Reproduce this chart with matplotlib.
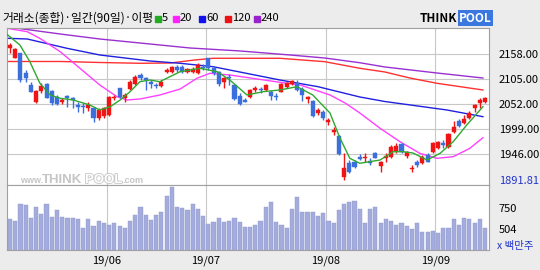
import matplotlib
matplotlib.use("Agg")
import matplotlib.pyplot as plt
import matplotlib.patheffects as pe
from matplotlib.patches import Rectangle

plt.rcParams['font.family'] = ['Noto Sans CJK KR', 'DejaVu Sans']

# KOSPI daily candles, index 0 = first session shown
opens = [2171.7, 2151.2, 2160.5, 2119.4, 2093.3, 2057.9, 2081.2, 2094.8, 2080.6, 2068.5,
         2056.6, 2070.0, 2065.1, 2050.9, 2049.4, 2043.9, 2045.2, 2024.0, 2028.2, 2029.7,
         2066.4, 2086.3, 2066.4, 2084.8, 2094.8, 2114.5, 2107.5, 2099.0, 2093.3, 2091.2,
         2120.2, 2121.5, 2132.1, 2132.1, 2120.2, 2120.9, 2118.1, 2132.1, 2149.9, 2128.7,
         2121.5, 2099.0, 2110.9, 2093.3, 2070.6, 2061.5, 2068.5, 2082.7, 2084.8, 2082.7,
         2079.1, 2070.6, 2079.1, 2089.7, 2094.8, 2096.9, 2084.2, 2063.6, 2059.4, 2033.3,
         2036.7, 2014.2, 1993.0, 1985.8, 1898.9, 1927.3, 1929.4, 1941.3, 1939.2, 1932.2,
         1948.5, 1922.2, 1939.2, 1941.3, 1953.4, 1967.6, 1943.4, 1914.6, 1930.7, 1927.3,
         1944.9, 1950.6, 1960.4, 1969.7, 1962.5, 1993.0, 2017.0, 2012.0, 2022.7, 2043.9,
         2054.5, 2057.9]
highs = [2181.7, 2171.1, 2161.5, 2125.1, 2100.3, 2082.7, 2096.9, 2096.9, 2082.7, 2072.1,
         2066.4, 2072.1, 2068.5, 2056.6, 2054.5, 2057.9, 2047.3, 2044.5, 2047.3, 2070.6,
         2072.1, 2087.6, 2075.7, 2103.9, 2114.5, 2118.1, 2110.9, 2103.9, 2096.9, 2103.9,
         2128.7, 2134.2, 2135.7, 2135.7, 2130.0, 2131.5, 2139.3, 2137.2, 2151.2, 2132.1,
         2123.0, 2110.9, 2116.0, 2094.8, 2075.7, 2066.4, 2084.2, 2091.2, 2089.7, 2094.8,
         2082.7, 2075.7, 2096.9, 2100.3, 2103.9, 2103.9, 2089.7, 2070.6, 2061.5, 2043.9,
         2040.3, 2024.0, 2004.9, 1987.3, 1948.5, 1934.3, 1934.3, 1946.4, 1948.5, 1937.9,
         1951.9, 1932.2, 1948.5, 1966.1, 1969.7, 1969.7, 1953.4, 1923.7, 1934.3, 1944.9,
         1948.5, 1973.1, 1974.6, 1976.7, 1990.9, 2017.0, 2021.2, 2029.7, 2038.2, 2052.4,
         2065.1, 2068.5]
lows = [2160.5, 2149.9, 2100.3, 2100.3, 2078.5, 2054.5, 2075.7, 2065.1, 2050.9, 2050.9,
        2053.7, 2047.3, 2043.9, 2035.4, 2033.3, 2038.2, 2015.5, 2019.1, 2022.7, 2028.2,
        2061.5, 2065.1, 2057.9, 2082.7, 2093.3, 2103.9, 2082.7, 2086.3, 2086.3, 2089.7,
        2118.1, 2118.1, 2121.5, 2118.1, 2118.1, 2118.1, 2116.0, 2125.1, 2125.1, 2114.5,
        2091.8, 2087.6, 2093.3, 2061.5, 2050.9, 2056.6, 2066.4, 2079.1, 2075.7, 2080.6,
        2061.5, 2061.5, 2077.8, 2086.3, 2093.3, 2080.6, 2059.4, 2054.5, 2026.1, 2029.7,
        2019.1, 2008.5, 1987.3, 1944.9, 1891.81, 1906.1, 1916.7, 1934.3, 1930.7, 1923.7,
        1937.9, 1909.5, 1930.7, 1939.2, 1948.5, 1948.5, 1939.2, 1908.2, 1920.1, 1925.2,
        1929.4, 1948.5, 1957.6, 1959.1, 1960.4, 1990.9, 2004.9, 2010.0, 2021.2, 2035.4,
        2043.9, 2054.5]
closes = [2178.1, 2169.6, 2103.9, 2107.5, 2079.1, 2081.2, 2091.2, 2066.4, 2054.5, 2052.4,
          2061.5, 2065.1, 2061.5, 2047.3, 2046.7, 2050.9, 2024.0, 2040.3, 2043.9, 2068.5,
          2068.5, 2068.5, 2072.1, 2100.3, 2110.9, 2108.8, 2103.9, 2096.0, 2090.5, 2100.3,
          2125.1, 2132.1, 2125.1, 2121.5, 2126.6, 2127.2, 2135.7, 2130.0, 2128.7, 2118.1,
          2094.8, 2108.8, 2108.8, 2063.6, 2052.4, 2057.9, 2082.7, 2087.6, 2082.1, 2093.3,
          2070.6, 2067.9, 2094.8, 2096.9, 2101.8, 2082.7, 2072.1, 2068.5, 2028.2, 2040.3,
          2024.0, 2019.1, 1998.0, 1946.4, 1918.0, 1909.5, 1920.0, 1936.4, 1941.3, 1927.3,
          1939.2, 1929.4, 1943.4, 1962.5, 1964.6, 1950.6, 1950.6, 1916.7, 1923.7, 1941.3,
          1930.7, 1969.7, 1971.8, 1966.1, 1988.8, 2004.9, 2007.0, 2021.2, 2033.3, 2050.9,
          2061.5, 2065.1]
# volume, millions of shares
volumes = [617, 598, 797, 781, 629, 765, 680, 797, 648, 726,
           648, 633, 633, 617, 516, 617, 536, 598, 571, 547,
           574, 536, 519, 598, 668, 765, 668, 606, 668, 700,
           890, 999, 765, 750, 726, 797, 735, 656, 566, 582,
           633, 582, 594, 633, 582, 524, 531, 547, 594, 765,
           817, 589, 551, 512, 738, 882, 700, 700, 707, 660,
           688, 598, 578, 726, 797, 820, 832, 738, 578, 738,
           765, 571, 617, 601, 551, 578, 539, 500, 578, 473,
           473, 484, 454, 512, 512, 617, 551, 637, 625, 578,
           617, 512]

# moving average lines, sampled (position in sessions, value)
ma5_x = [-0.6, 1.9, 3.8, 5.7, 7.7, 9.6, 12.1, 15.3, 17.2, 19.2, 21.1, 23, 24.9, 26.8, 28.7,
         32.6, 36.4, 39.7, 42.1, 45.4, 48.5, 51.7, 55, 58, 61.3, 63.2, 65.1, 67, 70.9, 73.4,
         75.3, 77.2, 79.9, 82.4, 84.9, 87.5, 90.6]
ma5_y = [2200.8, 2178.1, 2142.7, 2097.5, 2072.1, 2065.1, 2061.5, 2050.9, 2040.3, 2047.3,
         2061.5, 2079.1, 2100.3, 2103.9, 2100.3, 2121.5, 2128.7, 2121.5, 2103.9, 2072.1,
         2079.1, 2082.7, 2089.7, 2072.1, 2033.9, 1981.0, 1937.9, 1927.3, 1934.3, 1951.9,
         1951.9, 1949.1, 1934.3, 1948.5, 1973.1, 2008.5, 2047.3]
ma20_x = [-0.6, 3.3, 5.7, 9.6, 13.4, 17.2, 20.5, 22.4, 24.9, 28.7, 32.6, 35.8, 38.3, 42.1,
          51.7, 55.6, 61.3, 64.2, 67, 70.9, 74.7, 78.5, 81.8, 84.9, 88.1, 90.6]
ma20_y = [2213.5, 2206.3, 2192.3, 2164.0, 2128.7, 2093.3, 2068.5, 2061.5, 2063.6, 2072.1,
          2084.8, 2107.5, 2118.1, 2114.5, 2099.0, 2093.3, 2072.1, 2055.1, 2034.0, 2001.5,
          1973.1, 1948.5, 1937.9, 1941.3, 1959.1, 1981.6]
ma60_x = [-0.6, 3.3, 10.9, 17.2, 26.8, 32.6, 38.9, 51.7, 59, 67, 71.8, 83.7, 90.6]
ma60_y = [2192.3, 2190.8, 2171.1, 2156.9, 2144.2, 2139.3, 2132.1, 2103.9, 2089.7, 2067.9,
          2058.3, 2040.3, 2026.1]
ma120_x = [-0.6, 9.6, 17.2, 24.9, 30.7, 35.4, 38.9, 51.7, 60.3, 67, 71.8, 76.6, 81.8, 90.6]
ma120_y = [2143.1, 2143.1, 2141.0, 2139.3, 2139.9, 2146.3, 2149.9, 2149.9, 2142.7, 2128.7,
           2120.9, 2108.1, 2096.9, 2082.7]
ma240_x = [-0.6, 2.5, 9.6, 17.2, 24.9, 34.5, 44.1, 53.6, 60.3, 67, 71.8, 81.8, 90.6]
ma240_y = [2216.0, 2212.0, 2201.4, 2190.8, 2182.3, 2171.7, 2165.4, 2156.9, 2150.5, 2140.5,
           2131.5, 2118.7, 2108.1]

price_ticks = [1891.81, 1946, 1999, 2052, 2105, 2158]
vol_ticks = [504, 750]
month_pos = [18.5, 37.5, 60.5, 81.5]
month_labels = ['19/06', '19/07', '19/08', '19/09']

RED = '#f01414'
BLUE = '#3a6fdc'
GRID = '#c8c8c8'
EDGE = '#a0a0a0'
WM = '#c6c6c6'

W, H = 540, 270
fig = plt.figure(figsize=(W / 100, H / 100), dpi=100, facecolor='#ececec')


def fx(px):
    return px / W


def fy(py):
    return 1 - py / H


ax = fig.add_axes([fx(7), fy(185), fx(489) - fx(7), fy(28) - fy(185)])
axv = fig.add_axes([fx(7), fy(250), fx(489) - fx(7), fy(185) - fy(250)])

for a in (ax, axv):
    a.set_facecolor('white')
    a.set_xlim(-0.575, 91.76)
    for s in a.spines.values():
        s.set_color(EDGE)
        s.set_linewidth(0.8)
    for m in month_pos:
        a.axvline(m, color=GRID, lw=0.8, zorder=0)

ax.set_ylim(1881.3, 2214.1)
for p in price_ticks[1:]:
    ax.axhline(p, color=GRID, lw=0.8, zorder=0)

# candles
for i in range(len(opens)):
    o, h, l, c = opens[i], highs[i], lows[i], closes[i]
    col = RED if c >= o else BLUE
    ax.vlines(i, l, h, color=col, lw=1, zorder=3)
    ax.bar(i, max(abs(c - o), 1.5), bottom=min(o, c), width=0.78, color=col,
           edgecolor=col, lw=0.3, zorder=4)

ax.plot(ma240_x, ma240_y, color='#9a30d0', lw=1, zorder=2)
ax.plot(ma120_x, ma120_y, color='#ff3030', lw=1, zorder=2)
ax.plot(ma60_x, ma60_y, color='#2020e0', lw=1, zorder=2)
ax.plot(ma20_x, ma20_y, color='#ff40ff', lw=1, zorder=2)
ax.plot(ma5_x, ma5_y, color='#30a830', lw=1, zorder=5)

ax.yaxis.tick_right()
ax.set_yticks(price_ticks)
ax.set_yticklabels(['%.2f' % p for p in price_ticks], fontsize=8)
ax.get_yticklabels()[0].set_color('#2233cc')
ax.tick_params(axis='y', length=0, pad=7)
ax.set_xticks([])

# watermark, laid out in pixels along the bottom of the price panel
wm = dict(family='Liberation Sans', fontweight='bold', va='baseline', color=WM, zorder=1)
fig.text(fx(20), fy(183), 'www.', fontsize=6.5, **wm)
fig.text(fx(42), fy(183), 'THINK', fontsize=9.5, **wm)
fig.text(fx(85), fy(183), 'POOL', fontsize=9.5, family='Liberation Sans', fontweight='bold',
         va='baseline', color='white', zorder=1,
         path_effects=[pe.withStroke(linewidth=1.2, foreground=WM)])
fig.text(fx(122), fy(183), '.com', fontsize=6.5, **wm)

# volume
axv.bar(range(len(volumes)), volumes, width=0.8, color='#a3acdc', edgecolor='#8f98cc',
        lw=0.3, zorder=2)
axv.set_ylim(258, 1019)
axv.yaxis.tick_right()
axv.set_yticks(vol_ticks)
axv.set_yticklabels([str(v) for v in vol_ticks], fontsize=8)
axv.tick_params(axis='y', length=0, pad=7)
axv.set_xticks(month_pos)
axv.set_xticklabels(month_labels, fontsize=8)
axv.tick_params(axis='x', length=0, pad=4)
fig.text(fx(497), fy(246), 'x 백만주', fontsize=7.5, color='#2233cc', va='center')

# header
fig.text(fx(2), fy(18), '거래소(종합)·일간(90일)·이평', fontsize=8.5, va='center')
legend = [('#22aa22', '5', 155), ('#ff22ff', '20', 173), ('#1111ee', '60', 199),
          ('#ee1111', '120', 225), ('#9922cc', '240', 254)]
for col, lab, px in legend:
    fig.patches.append(Rectangle((fx(px), fy(22)), fx(6), fy(16) - fy(22),
                                 transform=fig.transFigure, color=col))
    fig.text(fx(px + 7), fy(18), lab, fontsize=8, va='center')

fig.text(fx(420), fy(18), 'THINK', fontsize=8.5, fontweight='bold', va='center')
fig.text(fx(459), fy(18), 'POOL', fontsize=8.5, fontweight='bold', va='center',
         color='white', bbox=dict(boxstyle='square,pad=0.1', fc='#3a78e0', ec='none'))

fig.savefig('out.png', dpi=100, facecolor=fig.get_facecolor())
